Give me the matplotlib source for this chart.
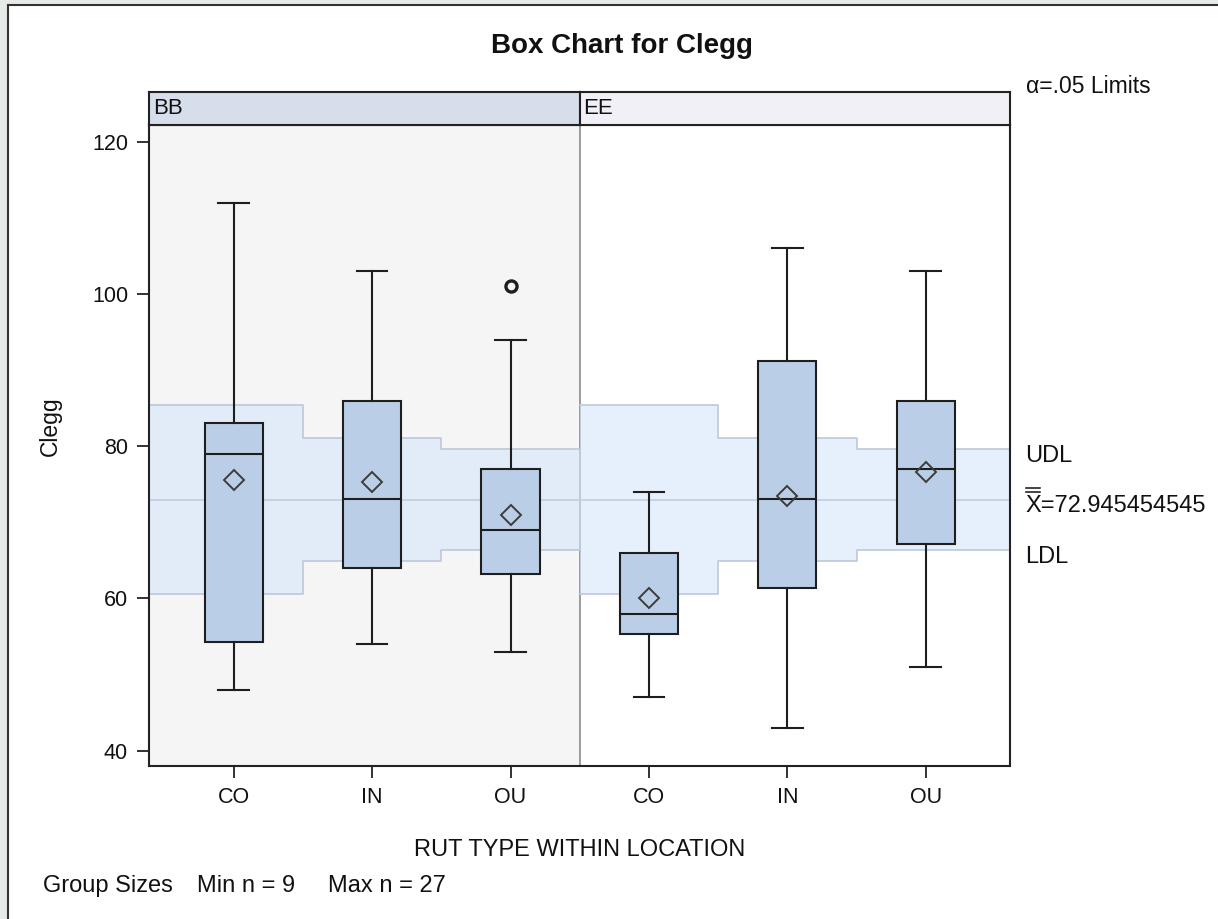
import matplotlib
matplotlib.use('Agg')
import matplotlib.pyplot as plt
from matplotlib.patches import Rectangle
from matplotlib.lines import Line2D
import matplotlib.transforms as mtransforms

plt.rcParams['font.family'] = ['Liberation Sans', 'DejaVu Sans']

# ---------------- data ----------------
locations = ['BB', 'EE']
rut_types = ['CO', 'IN', 'OU']
tick_labels = ['CO', 'IN', 'OU', 'CO', 'IN', 'OU']
whisker_low = [48, 54, 53, 47, 43, 51]
q1 = [54.3, 64, 63.2, 55.3, 61.4, 67.2]
median = [79, 73, 69, 58, 73, 77]
q3 = [83, 86, 77, 66, 91.2, 86]
whisker_high = [112, 103, 94, 74, 106, 103]
means = [75.5, 75.3, 71.0, 60.1, 73.5, 76.6]
outliers = [[], [], [101], [], [], []]
udl = [85.35, 81.1, 79.6, 85.35, 81.1, 79.6]
ldl = [60.6, 64.9, 66.35, 60.6, 64.9, 66.35]
center = 72.945454545
alpha_level = '.05'
min_n = 9
max_n = 27
y_ticks = [40, 60, 80, 100, 120]

# ---------------- layout helpers ----------------
W, H = 1218, 919
fig = plt.figure(figsize=(W / 100, H / 100), dpi=100)
fig.patch.set_facecolor('white')


def fx(px):
    return px / W


def fy(py):
    return 1 - py / H


# outer page frame
fig.patches.append(Rectangle((0, 0), fx(7.5), 1, transform=fig.transFigure,
                             facecolor='#e6ebe8', edgecolor='none', zorder=0))
fig.patches.append(Rectangle((0, fy(4.5)), 1, 1 - fy(4.5), transform=fig.transFigure,
                             facecolor='#e6ebe8', edgecolor='none', zorder=0))
fig.lines.append(Line2D([fx(8), fx(8)], [0, fy(5)], transform=fig.transFigure,
                        color='#333333', lw=1.5))
fig.lines.append(Line2D([fx(8), 1], [fy(5), fy(5)], transform=fig.transFigure,
                        color='#333333', lw=1.5))

ax_left, ax_right, ax_top, ax_bottom = 149, 1010, 124.5, 766
ax = fig.add_axes([fx(ax_left), fy(ax_bottom), fx(ax_right) - fx(ax_left),
                   fy(ax_top) - fy(ax_bottom)])
n = len(tick_labels)
positions = list(range(n))
xlim = (-0.612, n - 1 + 0.609)
ax.set_xlim(*xlim)
ax.set_ylim(37.98, 122.27)
ax.set_facecolor('white')

npan = len(rut_types)
split = npan - 0.5
# BB panel background
ax.axvspan(xlim[0], split, color='#f5f5f5', lw=0, zorder=0)
ax.axvline(split, color='#8c8c8c', lw=1.2, zorder=1)

# decision limit bands
for p in range(len(locations)):
    idx = [npan * p + i for i in range(npan)]
    left = xlim[0] if p == 0 else split
    right = split if p == 0 else xlim[1]
    xs = [left] + [i + 0.5 for i in idx[:-1]] + [right]
    up = [udl[i] for i in idx] + [udl[idx[-1]]]
    lo = [ldl[i] for i in idx] + [ldl[idx[-1]]]
    ax.fill_between(xs, lo, up, step='post', color='#d6e6fb', alpha=0.6, lw=0, zorder=1)
    ax.step(xs, up, where='post', color='#bcc8dc', lw=1.2, zorder=1.5)
    ax.step(xs, lo, where='post', color='#bcc8dc', lw=1.2, zorder=1.5)
    ax.plot([left, right], [center, center], color='#c2cce0', lw=1.2, zorder=1.5)

stats = []
for i in range(n):
    stats.append(dict(whislo=whisker_low[i], q1=q1[i], med=median[i], q3=q3[i],
                      whishi=whisker_high[i], mean=means[i], fliers=outliers[i]))

edge = '#1e1e1e'
ax.bxp(stats, positions=positions, widths=0.42, capwidths=0.22,
       showmeans=True, patch_artist=True, manage_ticks=False, zorder=3,
       boxprops=dict(facecolor='#bacfe7', edgecolor=edge, linewidth=1.5),
       whiskerprops=dict(color=edge, linewidth=1.5),
       capprops=dict(color=edge, linewidth=1.5),
       medianprops=dict(color=edge, linewidth=1.5),
       meanprops=dict(marker='D', markerfacecolor='none', markeredgecolor='#3c3c3c',
                      markersize=10.5, markeredgewidth=1.4),
       flierprops=dict(marker='o', markerfacecolor='none', markeredgecolor=edge,
                       markersize=8, markeredgewidth=2.4))

ax.set_xticks(positions)
ax.set_xticklabels(tick_labels)
ax.set_yticks(y_ticks)
ax.tick_params(axis='both', direction='out', length=8.6, width=1.3, color='#222222',
               labelsize=15.5, labelcolor='#111111')
ax.tick_params(axis='y', pad=6.5)
ax.tick_params(axis='x', pad=6.5)
for s in ax.spines.values():
    s.set_linewidth(1.5)
    s.set_color('#222222')

# strip headers
strip_colors = ['#d7deeb', '#f0f0f6']
bounds = [(ax_left, 579.5), (579.5, ax_right)]
for p, loc in enumerate(locations):
    l, r = bounds[p]
    sax = fig.add_axes([fx(l), fy(ax_top), fx(r) - fx(l), fy(92) - fy(ax_top)])
    sax.set_facecolor(strip_colors[p])
    sax.set_xticks([])
    sax.set_yticks([])
    for s in sax.spines.values():
        s.set_linewidth(1.5)
        s.set_color('#222222')
    sax.text(4 / (r - l), 0.5, loc, transform=sax.transAxes, ha='left', va='center',
             fontsize=16, color='#111111')

# texts
fig.text(fx(622), fy(53), 'Box Chart for Clegg', ha='center', va='baseline',
         fontsize=20, fontweight='bold', color='#111111')
fig.text(fx(56.7), fy(426), 'Clegg', rotation=90, rotation_mode='anchor',
         ha='center', va='baseline', fontsize=16.5, color='#111111')
fig.text(fx(579.5), fy(856), 'RUT TYPE WITHIN LOCATION', ha='center', va='baseline',
         fontsize=17, color='#111111')
fig.text(fx(1026), fy(93), '\u03b1=' + alpha_level + ' Limits', ha='left', va='baseline',
         fontsize=16.5, color='#111111')
fig.text(fx(43.3), fy(892), 'Group Sizes', ha='left', va='baseline', fontsize=17,
         color='#111111')
fig.text(fx(196.7), fy(892), 'Min n = %d' % min_n, ha='left', va='baseline', fontsize=17,
         color='#111111')
fig.text(fx(328.3), fy(892), 'Max n = %d' % max_n, ha='left', va='baseline', fontsize=17,
         color='#111111')

trans = mtransforms.blended_transform_factory(ax.transAxes, ax.transData)
trans = mtransforms.offset_copy(trans, fig=fig, x=0, y=-12.5, units='dots')
xr = (1025 - ax_left) / (ax_right - ax_left)
ax.text(xr, udl[-1], 'UDL', transform=trans, ha='left', va='baseline', fontsize=17,
        color='#111111', clip_on=False)
ax.text(xr, center, 'X=%s' % ('%.9f' % center),
        transform=trans, ha='left', va='baseline', fontsize=17, color='#111111',
        clip_on=False)
ax.text(xr, ldl[-1], 'LDL', transform=trans, ha='left', va='baseline', fontsize=17,
        color='#111111', clip_on=False)

# double overline over the X (x-double-bar): measure the X glyph width, then draw two rules
tx = ax.text(xr, center, 'X', transform=trans, ha='left', va='baseline', fontsize=17,
             color='none', clip_on=False)
fig.canvas.draw()
renderer = fig.canvas.get_renderer()
bb = tx.get_window_extent(renderer)
tx.remove()
base_y = trans.transform((xr, center))[1]
cap = 17 * 100 / 72 * 0.716
for dy in (3.0, 7.0):
    yy = base_y + cap + dy
    fig.lines.append(Line2D([bb.x0 + 0.5, bb.x1 - 0.5], [yy, yy],
                            transform=mtransforms.IdentityTransform(),
                            color='#111111', lw=1.1))

fig.savefig('out.png', dpi=100)
